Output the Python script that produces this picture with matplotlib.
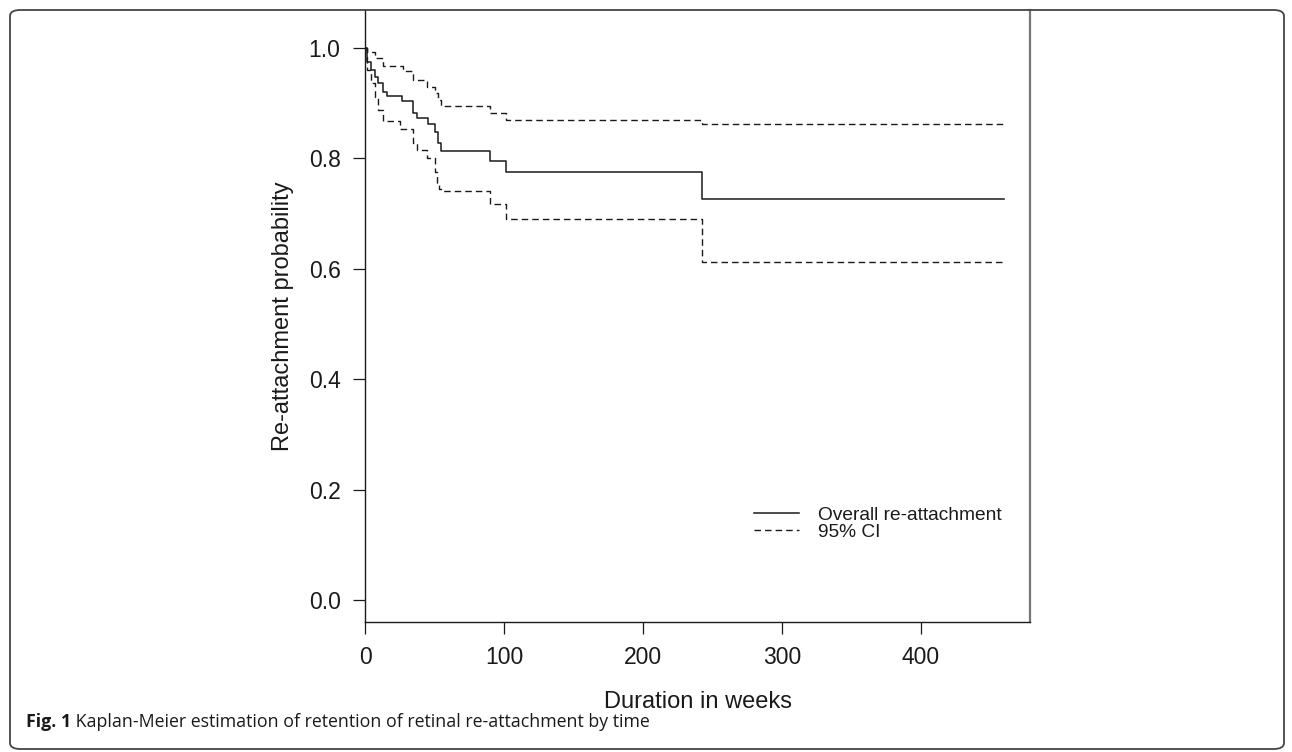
import matplotlib
matplotlib.use("Agg")
import matplotlib.pyplot as plt
from matplotlib.patches import FancyBboxPatch

# Kaplan-Meier estimate
km_weeks = [0, 1.2, 4, 7.2, 9.6, 13.2, 15.6, 26.4, 34.8, 37.2, 45.6, 50.4, 52.7, 54.4, 90, 101.4, 242.7, 460]
km_surv = [1.0, 0.975, 0.96, 0.948, 0.936, 0.921, 0.913, 0.904, 0.883, 0.873, 0.862, 0.848, 0.827, 0.813, 0.795, 0.775, 0.726, 0.726]

# upper 95% CI
hi_weeks = [0, 1.2, 7.2, 13.2, 27.6, 34.8, 44.4, 50.4, 52.7, 54.4, 90, 101.4, 242.7, 460]
hi_surv = [1.0, 0.993, 0.981, 0.967, 0.959, 0.942, 0.930, 0.918, 0.906, 0.894, 0.883, 0.870, 0.862, 0.862]

# lower 95% CI
lo_weeks = [0, 1.2, 4, 7.2, 9.6, 13.2, 25.2, 34.8, 37.2, 44.4, 50.4, 51.6, 53.5, 54.4, 90, 101.4, 242.7, 460]
lo_surv = [1.0, 0.96, 0.936, 0.911, 0.888, 0.867, 0.853, 0.827, 0.815, 0.80, 0.775, 0.755, 0.745, 0.741, 0.717, 0.690, 0.612, 0.612]

x_ticks = [0, 100, 200, 300, 400]
y_ticks = [0.0, 0.2, 0.4, 0.6, 0.8, 1.0]

W, H = 1292, 752
ink = "#1a1a1a"
fig = plt.figure(figsize=(W / 100, H / 100), dpi=100)
ax = fig.add_axes([365 / W, 1 - 622 / H, (1030 - 365) / W, (622 - 10) / H])

dash = (4.7, 2.9)
ax.step(km_weeks, km_surv, where="post", color=ink, lw=1.1, label="Overall re-attachment")
ax.step(hi_weeks, hi_surv, where="post", color=ink, lw=1.0, dashes=dash, label="95% CI")
ax.step(lo_weeks, lo_surv, where="post", color=ink, lw=1.0, dashes=dash)

ax.set_xlim(0, 478.4)
ax.set_ylim(-0.0399, 1.0688)
ax.set_xticks(x_ticks)
ax.set_yticks(y_ticks)
ax.set_yticklabels([f"{v:.1f}" for v in y_ticks])
for lab in ax.get_xticklabels() + ax.get_yticklabels():
    lab.set_family("Liberation Sans")
    lab.set_fontsize(16.5)
    lab.set_color(ink)
ax.tick_params(axis="both", direction="out", length=8.6, width=0.9, color=ink)
ax.tick_params(axis="y", pad=9)
ax.tick_params(axis="x", pad=9)

ax.spines["top"].set_visible(False)
ax.spines["left"].set_color(ink)
ax.spines["bottom"].set_color(ink)
ax.spines["right"].set_color("#777777")
ax.spines["right"].set_linewidth(1.6)
for s in ["left", "bottom"]:
    ax.spines[s].set_linewidth(1.0)

fig.text(697.5 / W, 1 - 702 / H, "Duration in weeks", ha="center", va="center",
         family="Liberation Sans", fontsize=17, color=ink)
fig.text(283 / W, 1 - 316 / H, "Re-attachment probability", ha="center", va="center",
         rotation=90, family="Liberation Sans", fontsize=17, color=ink)

leg = ax.legend(loc="upper left", bbox_to_anchor=(744 / W, 1 - 497 / H),
                bbox_transform=fig.transFigure, frameon=False, borderpad=0,
                handlelength=2.4, handletextpad=0.95, labelspacing=-0.02,
                prop={"family": "Liberation Sans", "size": 13.75})
for t in leg.get_texts():
    t.set_color(ink)

# page frame with rounded corners
frame = FancyBboxPatch((10 / W, 3 / H), (1284 - 10) / W, (742 - 3) / H,
                       boxstyle="round,pad=0,rounding_size=0.008",
                       transform=fig.transFigure, fill=False,
                       edgecolor="#444444", lw=1.3)
fig.patches.append(frame)

# caption: bold label followed by regular text
t1 = fig.text(26 / W, 1 - 722 / H, "Fig. 1", ha="left", va="center",
              family="Open Sans", fontsize=12.8, weight="bold", color=ink)
ax.annotate(" Kaplan-Meier estimation of retention of retinal re-attachment by time",
            xy=(1, 0), xycoords=t1, ha="left", va="bottom", annotation_clip=False,
            family="Open Sans", fontsize=12.8, color=ink)

fig.savefig("out.png", dpi=100)
